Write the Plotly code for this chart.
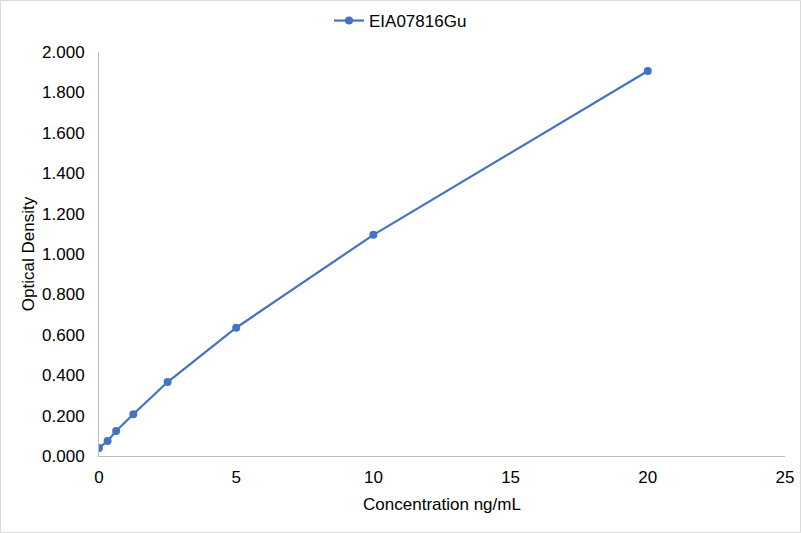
import plotly.graph_objects as go

concentration = [0, 0.312, 0.625, 1.25, 2.5, 5, 10, 20]
optical_density = [0.040, 0.074, 0.124, 0.207, 0.366, 0.635, 1.095, 1.906]
series_name = "EIA07816Gu"

W, H = 801, 533
L, R, T, B = 99, 16, 52, 77
pw, ph = W - L - R, H - T - B

fig = go.Figure()
fig.add_trace(go.Scatter(
    x=concentration, y=optical_density, mode="lines+markers", name=series_name,
    line=dict(color="#4472C4", width=2.2),
    marker=dict(color="#4472C4", size=8),
))

font = "Liberation Sans, Arial, sans-serif"
fig.update_layout(
    width=W, height=H, autosize=False,
    margin=dict(l=L, r=R, t=T, b=B, autoexpand=False),
    paper_bgcolor="white", plot_bgcolor="white",
    font=dict(family=font, size=17, color="#000000"),
    showlegend=True,
    legend=dict(orientation="h", xref="container", yref="container", x=0.5, xanchor="center",
                y=1 - 3 / H, yanchor="top",
                font=dict(size=17, color="#000000"), bgcolor="rgba(0,0,0,0)"),
    xaxis=dict(range=[0, 25], dtick=5, tick0=0, showgrid=False, zeroline=False,
               showline=True, linecolor="#BFBFBF", linewidth=1, ticks="",
               ticklabelstandoff=6,
               tickfont=dict(size=17, color="#000000"),
               title=dict(text="Concentration ng/mL", font=dict(size=17, color="#000000"), standoff=11)),
    yaxis=dict(range=[0, 2.0], dtick=0.2, tick0=0, tickformat=".3f", showgrid=False, zeroline=False,
               showline=True, linecolor="#BFBFBF", linewidth=1, ticks="",
               ticklabelstandoff=10,
               tickfont=dict(size=17, color="#000000"),
               title=dict(text="Optical Density", font=dict(size=17, color="#000000"), standoff=3)),
    shapes=[dict(type="rect", xref="paper", yref="paper",
                 x0=(-L + 0.5) / pw, x1=1 + (R - 0.5) / pw,
                 y0=(-B + 0.5) / ph, y1=1 + (T - 0.5) / ph,
                 line=dict(color="#D9D9D9", width=1), fillcolor="rgba(0,0,0,0)", layer="below")],
)

fig.write_html("out.html", config={"displayModeBar": False},
               post_script="document.body.style.margin='0';document.body.style.overflow='hidden';")
